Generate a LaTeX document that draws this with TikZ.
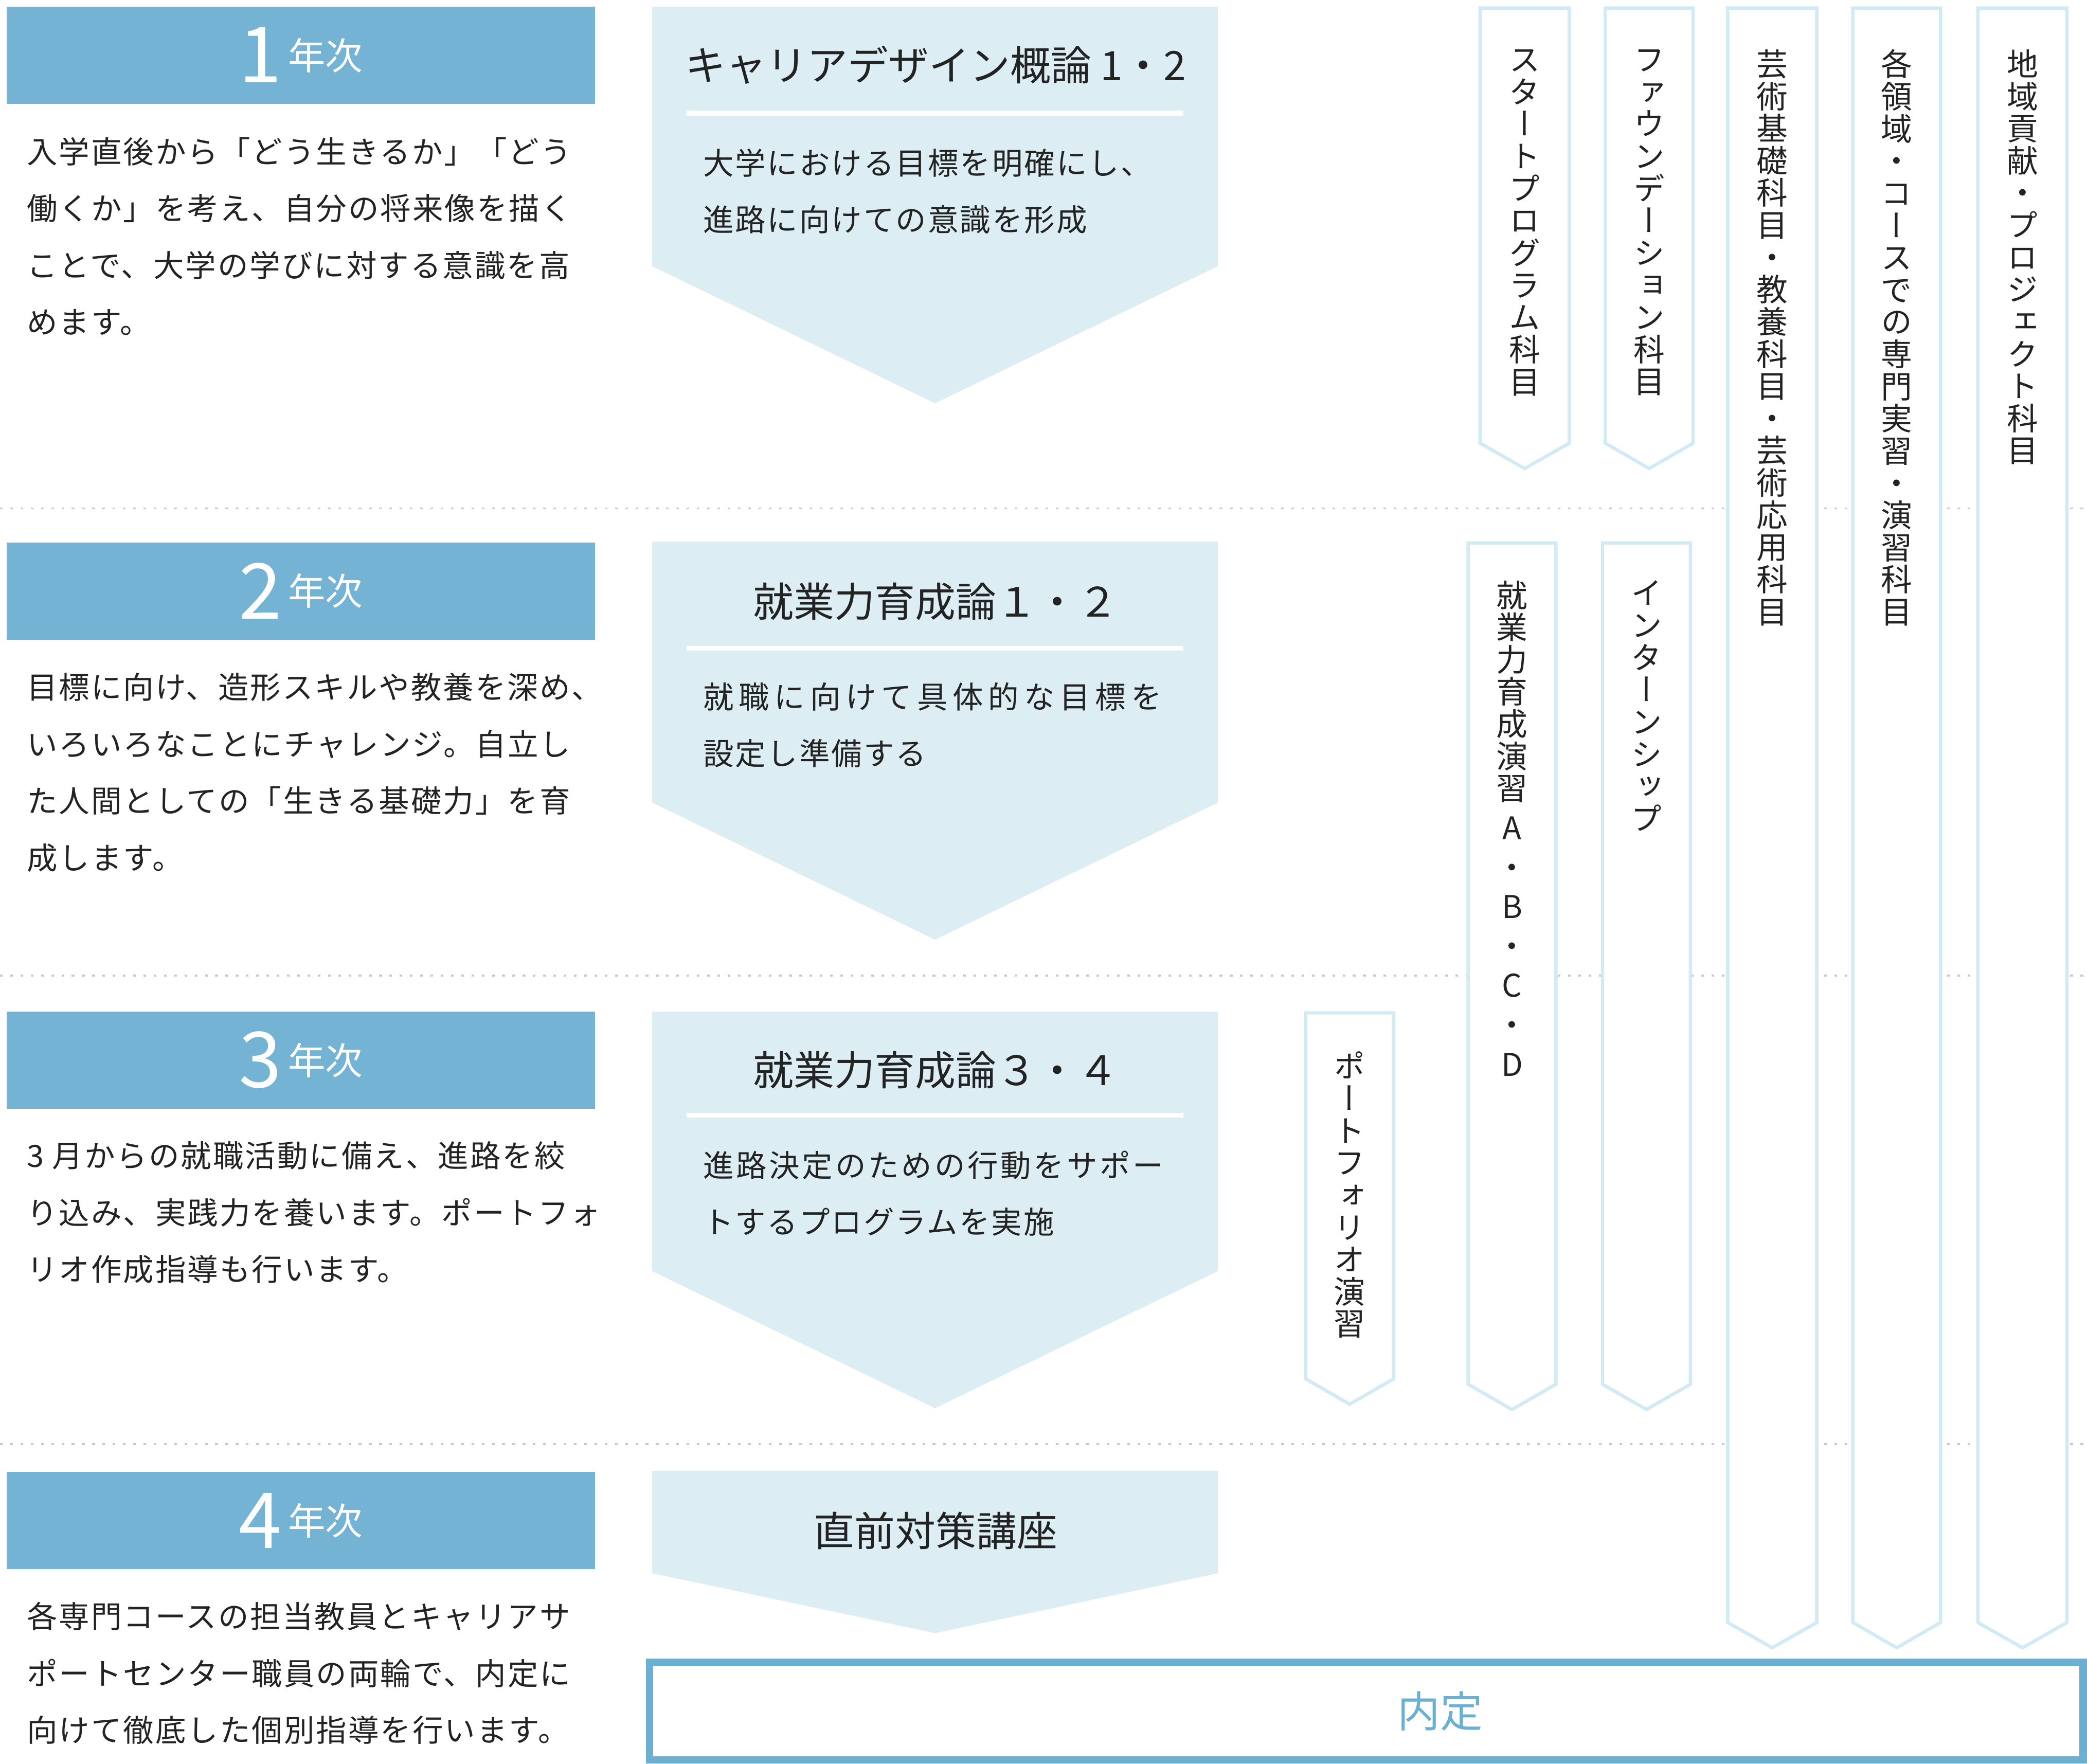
\documentclass[tikz,border=0pt]{standalone}
\usepackage{fontspec}
\setmainfont{Noto Sans CJK JP}
\newfontfamily\bodyjp[LetterSpace=5]{Noto Sans CJK JP}
\newfontfamily\vertjp[RawFeature=+vert]{Noto Sans CJK JP}
\XeTeXuseglyphmetrics=1
\usetikzlibrary{positioning}

\definecolor{yearblue}{RGB}{117,179,213}
\definecolor{steplight}{RGB}{220,238,244}
\definecolor{coursecyan}{RGB}{210,234,243}
\definecolor{naiteiblue}{RGB}{107,175,211}
\definecolor{dotgray}{RGB}{200,200,200}
\definecolor{inkgray}{RGB}{35,35,35}

\tikzstyle{yearbox} = [fill=yearblue, minimum width=442pt, minimum height=73pt, inner sep=0pt]
\tikzstyle{yearnum} = [text=white, inner sep=0pt, font=\fontsize{58}{58}\selectfont]
\tikzstyle{yeartag} = [text=white, inner sep=0pt, font=\fontsize{28}{28}\selectfont]
\tikzstyle{yeardesc} = [anchor=north west, align=left, inner sep=0pt, text=inkgray, font=\bodyjp\fontsize{23}{42.7}\selectfont]
\tikzstyle{steptitle} = [inner sep=0pt, text=inkgray, font=\fontsize{30.5}{30.5}\selectfont]
\tikzstyle{stepdesc} = [anchor=north west, align=left, inner sep=0pt, text=inkgray, font=\bodyjp\fontsize{23}{42.5}\selectfont]
\tikzstyle{sepline} = [draw=white, line width=3.5pt]
\tikzstyle{rowsep} = [draw=dotgray, line width=1.4pt, dash pattern=on 2pt off 5.7pt]
\tikzstyle{coursebar} = [draw=coursecyan, fill=white, line width=2.5pt, line join=miter]
\tikzstyle{coursetext} = [anchor=north, align=center, inner sep=0pt, text=inkgray, font=\vertjp\fontsize{23.5}{24.2}\selectfont]
\tikzstyle{goalbox} = [draw=naiteiblue, line width=5.5pt, minimum width=1077pt, minimum height=73.5pt, inner sep=0pt]
\tikzstyle{goaltext} = [inner sep=0pt, text=naiteiblue, font=\fontsize{32}{32}\selectfont]

% x1, x2, top, shoulder, tip
\newcommand{\StepArrow}[5]{\fill[steplight] (#1,#3) -- (#2,#3) -- (#2,#4) -- ({(#1+#2)/2},#5) -- (#1,#4) -- cycle;}
\newcommand{\CourseBar}[5]{\filldraw[coursebar] (#1,#3) -- (#2,#3) -- (#2,#4) -- ({(#1+#2)/2},#5) -- (#1,#4) -- cycle;}

% one character per line
\makeatletter
\newcommand{\Vtext}[1]{\Vt@first#1\@nil}
\def\Vt@first#1{#1\Vt@next}
\def\Vt@next#1{\ifx#1\@nil\else\\#1\expandafter\Vt@next\fi}
\makeatother

\begin{document}
\begin{tikzpicture}[x=1pt, y=-1pt]
\useasboundingbox (0,0) rectangle (1568,1325);

% Row separators
\draw[rowsep] (0,382) -- (1568,382);
\draw[rowsep] (0,733) -- (1568,733);
\draw[rowsep] (0,1085) -- (1568,1085);

% Year headers
\node[yearbox] (y1) at (226,41.5) {};
\node[yeartag, anchor=west] (t1) at ([xshift=211.5pt]y1.west) {年次};
\node[yearnum, left=4.5pt of t1] (n1) {1};

\node[yearbox] (y2) at (226,444) {};
\node[yeartag, anchor=west] (t2) at ([xshift=211.5pt]y2.west) {年次};
\node[yearnum, left=4.5pt of t2] (n2) {2};

\node[yearbox] (y3) at (226,796.5) {};
\node[yeartag, anchor=west] (t3) at ([xshift=211.5pt]y3.west) {年次};
\node[yearnum, left=4.5pt of t3] (n3) {3};

\node[yearbox] (y4) at (226,1142.5) {};
\node[yeartag, anchor=west] (t4) at ([xshift=211.5pt]y4.west) {年次};
\node[yearnum, left=4.5pt of t4] (n4) {4};

% Year descriptions
\node[yeardesc] (d1) at (20,103) {入学直後から「どう生きるか」「どう\\働くか」を考え、自分の将来像を描く\\ことで、大学の学びに対する意識を高\\めます。};
\node[yeardesc] (d2) at (20,505.5) {目標に向け、造形スキルや教養を深め、\\いろいろなことにチャレンジ。自立し\\た人間としての「生きる基礎力」を育\\成します。};
\node[yeardesc] (d3) at (20,857.5) {3 月からの就職活動に備え、進路を絞\\り込み、実践力を養います。ポートフォ\\リオ作成指導も行います。};
\node[yeardesc] (d4) at (20,1203.5) {各専門コースの担当教員とキャリアサ\\ポートセンター職員の両輪で、内定に\\向けて徹底した個別指導を行います。};

% Career steps
\StepArrow{490}{915}{5}{200}{303}
\node[steptitle] (s1) at (703,49) {キャリアデザイン概論 1・2};
\draw[sepline] (516,85) -- (889,85);
\node[stepdesc] (s1d) at (528,111.5) {大学における目標を明確にし、\\進路に向けての意識を形成};

\StepArrow{490}{915}{407}{603}{706}
\node[steptitle] (s2) at (703,452) {就業力育成論１・２};
\draw[sepline] (516,487) -- (889,487);
\node[stepdesc] (s2d) at (528,512.5) {{\addfontfeature{LetterSpace=16.5}就職に向けて具体的な目標を}\\設定し準備する};

\StepArrow{490}{915}{760}{955}{1058}
\node[steptitle] (s3) at (703,804) {就業力育成論３・４};
\draw[sepline] (516,838) -- (889,838);
\node[stepdesc] (s3d) at (528,864.5) {{\addfontfeature{LetterSpace=8}進路決定のための行動をサポー}\\トするプログラムを実施};

\StepArrow{490}{915}{1105}{1182}{1227}
\node[steptitle] (s4) at (703,1150) {直前対策講座};

% Course bars
\CourseBar{1112}{1179}{6}{333}{352}
\CourseBar{1206}{1272}{6}{333}{352}
\CourseBar{1298}{1365}{6}{1219}{1238}
\CourseBar{1392}{1458}{6}{1219}{1238}
\CourseBar{1486}{1553}{6}{1219}{1238}
\CourseBar{1103}{1169}{408}{1040}{1059}
\CourseBar{1204}{1270}{408}{1040}{1059}
\CourseBar{981}{1047}{761}{1036}{1055}

\node[coursetext] (cA) at (1145.5,37) {\Vtext{スタートプログラム科目}};
\node[coursetext] (cB) at (1239,37) {\Vtext{ファウンデーション科目}};
\node[coursetext] (cC) at (1331.5,37) {\Vtext{芸術基礎科目・教養科目・芸術応用科目}};
\node[coursetext] (cD) at (1425,37) {\Vtext{各領域・コースでの専門実習・演習科目}};
\node[coursetext] (cE) at (1519.5,37) {\Vtext{地域貢献・プロジェクト科目}};
\node[coursetext] (cF) at (1136,436) {\Vtext{就業力育成演習}\\[5.4pt]A\\[5.4pt]・\\[5.4pt]B\\[5.4pt]・\\[5.4pt]C\\[5.4pt]・\\[5.4pt]D};
\node[coursetext] (cG) at (1237,436) {\Vtext{インターンシップ}};
\node[coursetext] (cH) at (1014,790) {\Vtext{ポートフォリオ演習}};

% Goal
\node[goalbox] (goal) at (1026.6,1285.5) {};
\node[goaltext] (naitei) at ([xshift=55.5pt]goal.center) {内定};
\end{tikzpicture}
\end{document}
